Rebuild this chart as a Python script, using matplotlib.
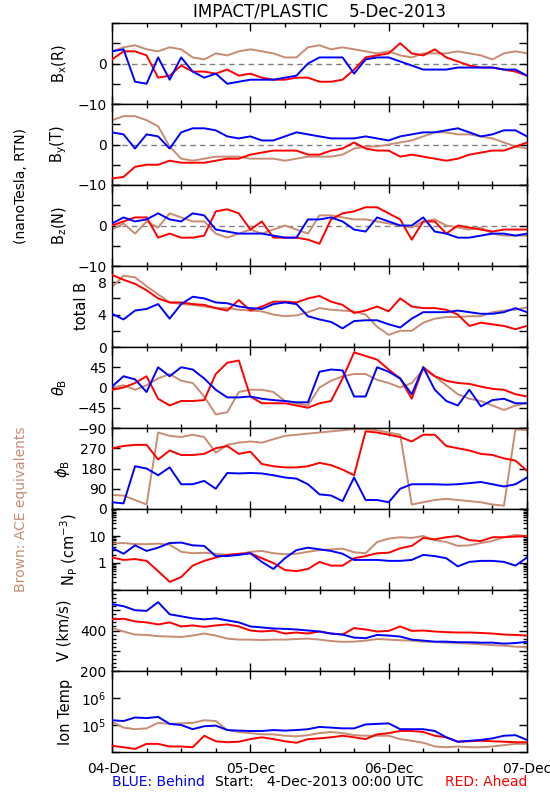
import numpy as np
import matplotlib
matplotlib.use('Agg')
import matplotlib.pyplot as plt
from matplotlib.ticker import FixedLocator, LogLocator, NullFormatter, MultipleLocator

# hours since 4-Dec-2013 00:00 UTC, one sample every 2 h
hours = np.arange(0, 73, 2)

# brown = ACE, red = STEREO Ahead, blue = STEREO Behind
bx_ace = [3, 4, 4.5, 3.5, 3, 4, 3.5, 1.5, 1, 2.5, 2, 3, 3.5, 3, 2.5, 1.5, 1.5, 4, 4.5, 3.5,
          4, 3.5, 3, 2.5, 3, 2, 1.5, 2.5, 2.5, 2.5, 3, 2.5, 2, 1, 2.5, 3, 2.5]
bx_a = [1, 3, 3, 2, -3.5, -3, -0.5, -2, -2, -2.5, -1.5, -3, -2.5, -3.5, -4, -4, -3.5, -3.5, -4.5, -4.5,
        -4, -1.5, 1.5, 2, 2.5, 5, 2.5, 2, 3.5, 1.5, 0.5, -0.5, -1, -1, -1.5, -2, -3]
bx_b = [3, 3.5, -4.5, -5, 1.5, -4, 1.5, -2, -3.5, -2.5, -5, -4.5, -4, -4, -4, -3.5, -3, 0, 1.5, 1.5,
        1.5, -2.5, 1, 1.5, 1.5, 0.5, -0.5, -1.5, -1.5, -1.5, -1, -1, -1, -1, -1.5, -1.5, -3]

by_ace = [6, 7, 7, 6, 4.5, -0.5, -3.5, -4, -3.5, -3, -3, -3, -3.5, -3.5, -3.5, -4, -3.5, -3, -3, -3,
          -2.5, -1, -0.5, -0.5, 0, 0.5, 1, 2, 3, 3, 2.5, 2.5, 2, 1.5, 0.5, -0.5, -1]
by_a = [-8.4, -8, -5.5, -5, -5, -4, -4.5, -4.5, -4.5, -4, -3.5, -3.5, -2.5, -2, -1.5, -1.5, -1.5, -2.5, -2.5, -1.5,
        -1, 0.5, -1, -1.5, -1.5, -3, -2.5, -3, -3.5, -4, -3.5, -2.5, -2, -1.5, -1.5, -0.5, 0.5]
by_b = [3, 2.5, -1, 2.5, 2, -1, 3, 4, 4, 3.5, 2, 1.5, 2, 1, 1, 2, 3, 2.5, 2, 1.5,
        1.5, 1.5, 2, 1.5, 1, 2, 2.5, 3, 3, 3.5, 4, 3, 2, 2.5, 3.5, 3.5, 2]

bz_ace = [-1, 0.5, -2, 1, -0.5, 3, 2, 1, 1, -2, -3, -2, -1, -2, -1, 0, -1, -2, 2.5, 2.5,
          2, 1.5, 1.5, 1, 0.5, 0, -0.5, 1, 1.5, 0, -0.5, -1, -0.5, -2, -2.5, -2.5, -2.5]
bz_a = [0, 1, 2, 2, -3, -2, -3, -3, -2.5, 3.5, 4, 3, -1, 1, -3, -3, -3, -3.5, -4.5, 1.5,
        3, 3.5, 4.5, 4.5, 3, 1.5, -3.5, 1, 1, -2, 0, -0.5, -1, -1.5, -1, -1, -1]
bz_b = [0.5, 2, 1, 1.5, 3, 1.5, 1, 3, 2.5, -1, -1.5, -2, -2, -2, -2.5, -3, -3, 1.5, 1.5, 2,
        1, -1, -1.5, 2, 1, 0, 0, 2, -1.5, -2, -3, -3, -2.5, -2, -2, -2.5, -2]

btot_ace = [7.4, 8.8, 8.6, 7.5, 6.5, 5.5, 5.3, 5.2, 5, 4.8, 4.8, 4.6, 4.5, 4.4, 4, 3.8, 3.9, 4.3, 4.8, 4.6,
            4.5, 4.4, 4, 2.5, 1.5, 2, 2, 3, 3.5, 3.7, 3.7, 3.8, 3.8, 4.3, 4.5, 4.6, 4.9]
btot_a = [8.9, 8.3, 7.8, 7.0, 6.0, 5.5, 5.5, 5.3, 5.2, 4.8, 4.5, 5.8, 4.5, 5, 5.6, 5.6, 5.5, 6.0, 6.3, 5.6,
          5.2, 4.2, 4.5, 5, 4.4, 6, 5, 4.8, 4.8, 4.6, 4, 2.6, 3.0, 2.8, 2.6, 2.2, 2.6]
btot_b = [4.1, 3.4, 4.5, 4.7, 5.3, 3.5, 5.3, 6.2, 6, 5.5, 5.4, 5, 4.8, 4.7, 5.3, 5.5, 5.3, 3.8, 3.4, 3.1,
          2.3, 3.2, 3.3, 3.3, 2.8, 2.4, 3.5, 4.3, 4.3, 4.3, 4.5, 4.3, 4.1, 4.1, 4.3, 4.8, 4.3]

theta_ace = [0, 5, -5, 5, 20, 30, 15, 10, -20, -60, -55, -10, -5, -5, -10, -30, -35, -40, 0, 15,
             25, 30, 30, 17, 10, 0, 10, 40, 25, 5, -15, -25, -30, -40, -50, -40, -35]
theta_a = [-5, 0, 10, 25, -25, -40, -30, -30, -28, 30, 55, 60, -20, -35, -35, -35, -40, -45, -35, -30,
           20, 78, 70, 62, 40, 20, -25, 45, 25, 15, 10, 8, 2, -3, -5, -15, -20]
theta_b = [2, 25, 18, -10, 45, 25, 45, 40, 20, -5, -22, -22, -20, -25, -28, -30, -33, -33, 35, 40,
           38, -20, -20, 45, 35, 20, -15, 45, -5, -30, -40, -5, -42, -28, -25, -35, -35]

phi_ace = [62, 60, 40, 20, 340, 325, 320, 330, 320, 250, 285, 295, 300, 295, 310, 325, 330, 335, 340, 345,
           350, 355, 355, 350, 340, 330, 20, 30, 40, 45, 40, 35, 30, 20, 15, 355, 350]
phi_a = [270, 280, 285, 285, 220, 260, 240, 240, 245, 270, 280, 245, 255, 200, 190, 185, 185, 190, 205, 195,
         175, 150, 345, 340, 330, 320, 300, 330, 330, 280, 270, 260, 245, 240, 225, 215, 170]
phi_b = [30, 25, 190, 180, 150, 185, 110, 110, 125, 90, 160, 158, 160, 158, 150, 140, 135, 110, 65, 60,
         35, 140, 40, 40, 30, 90, 110, 110, 110, 108, 110, 115, 120, 110, 100, 110, 140]

np_ace = [5.3, 5.5, 5, 5, 5.2, 4.8, 2.6, 2.3, 2.4, 2.2, 2, 2.1, 2.6, 2.8, 2.3, 2.1, 2.2, 2.6, 3, 3.2,
          3.4, 2.5, 2.3, 6, 8, 9, 8.5, 10, 7, 6, 4.3, 4.5, 5.5, 6.5, 9, 11, 10]
np_a = [1.6, 1.3, 1.4, 1.2, 0.5, 0.2, 0.3, 0.8, 1.2, 1.6, 2, 2.2, 2.3, 1.5, 1, 0.55, 0.5, 0.6, 1.1, 0.8,
        0.8, 1.5, 1.8, 2.3, 2.4, 3.5, 4.3, 8.5, 7.5, 9, 10, 7, 6.5, 9, 9, 9.5, 10]
np_b = [3.7, 2.2, 4.5, 2.8, 3.7, 5.5, 5.7, 4.5, 4.3, 1.8, 1.8, 2, 2.3, 1.1, 0.6, 1.5, 3, 3.7, 3.2, 2.8,
        2.2, 1.3, 1.3, 1.3, 1.2, 1.2, 1.3, 2, 1.8, 1.5, 0.75, 1.1, 1.2, 1.2, 1.1, 0.8, 1.6]

v_ace = [412, 395, 380, 378, 372, 370, 368, 375, 385, 375, 360, 355, 355, 353, 355, 355, 358, 360, 355, 348,
         344, 345, 350, 358, 355, 352, 350, 345, 343, 340, 338, 335, 332, 328, 325, 320, 318]
v_a = [455, 458, 445, 440, 430, 440, 420, 425, 418, 425, 430, 420, 400, 395, 400, 385, 390, 385, 395, 385,
       380, 412, 405, 395, 398, 420, 398, 400, 395, 392, 390, 390, 388, 385, 380, 378, 375]
v_b = [530, 520, 500, 497, 540, 480, 470, 460, 455, 460, 450, 440, 420, 415, 410, 408, 405, 400, 395, 385,
       380, 365, 362, 378, 375, 370, 355, 350, 345, 345, 342, 342, 340, 340, 335, 338, 344]

tp_ace = [1.3e5, 8e4, 7e4, 7.5e4, 1.2e5, 1.1e5, 1.15e5, 1.2e5, 1.5e5, 1.4e5, 6.5e4, 5.5e4, 5e4, 4.5e4, 4.5e4,
          4e4, 3.8e4, 4.2e4, 5e4, 5.5e4, 5e4, 4.2e4, 4e4, 4e4, 4e4, 3e4, 2.6e4, 2.2e4, 1.6e4, 1.5e4,
          1.6e4, 1.5e4, 1.5e4, 1.6e4, 1.8e4, 2e4, 2e4]
tp_a = [1.7e4, 1.5e4, 1.3e4, 2e4, 2e4, 1.6e4, 1.6e4, 1.5e4, 4e4, 2.5e4, 2.3e4, 2.4e4, 3e4, 3.5e4, 3e4,
        2.5e4, 2.2e4, 3e4, 3.2e4, 3.5e4, 4e4, 3.5e4, 3e4, 4.5e4, 5e4, 6e4, 6e4, 5.5e4, 4e4, 3.5e4,
        2.4e4, 2.5e4, 2.6e4, 2.5e4, 2.4e4, 2.3e4, 2.3e4]
tp_b = [1.5e5, 1.4e5, 1.9e5, 1.8e5, 2.0e5, 1.1e5, 1.0e5, 7e4, 9e4, 9.5e4, 6.5e4, 6.2e4, 6e4, 6e4, 6.5e4,
        6.2e4, 6.5e4, 7e4, 8.5e4, 8e4, 7.5e4, 7.5e4, 1.05e5, 1.1e5, 1.15e5, 7e4, 7e4, 7e4, 6e4, 3.5e4,
        2.4e4, 2.6e4, 2.8e4, 3.2e4, 4e4, 4.2e4, 2.8e4]

day_ticks = [0, 24, 48, 72]
day_labels = ['04-Dec', '05-Dec', '06-Dec', '07-Dec']

BROWN = '#c88c73'
RED = '#ff0000'
BLUE = '#0000ff'

plt.rcParams['font.family'] = 'DejaVu Sans'
plt.rcParams['font.size'] = 10
plt.rcParams['axes.linewidth'] = 1.0
plt.rcParams['xtick.direction'] = 'in'
plt.rcParams['ytick.direction'] = 'in'
plt.rcParams['xtick.top'] = True
plt.rcParams['ytick.right'] = True

# (ylabel, ace, ahead, behind, ylim, ticks, ticklabels, log, zero line)
panels = [
    (r'B$_\mathregular{x}$(R)', bx_ace, bx_a, bx_b, (-10, 10), [-10, -5, 0, 5, 10],
     ['\u221210', '', '0', '', ''], False, True),
    (r'B$_\mathregular{y}$(T)', by_ace, by_a, by_b, (-10, 10), [-10, -5, 0, 5, 10],
     ['\u221210', '', '0', '', ''], False, True),
    (r'B$_\mathregular{z}$(N)', bz_ace, bz_a, bz_b, (-10, 10), [-10, -5, 0, 5, 10],
     ['\u221210', '', '0', '', ''], False, True),
    ('total B', btot_ace, btot_a, btot_b, (0, 10), [0, 2, 4, 6, 8, 10],
     ['0', '', '4', '', '8', ''], False, False),
    (r'$\theta_\mathregular{B}$', theta_ace, theta_a, theta_b, (-90, 90), [-90, -45, 0, 45, 90],
     ['\u221290', '\u221245', '0', '45', ''], False, False),
    (r'$\phi_\mathregular{B}$', phi_ace, phi_a, phi_b, (0, 360), [0, 90, 180, 270, 360],
     ['0', '90', '180', '270', ''], False, False),
    (r'N$_\mathregular{P}$ (cm$^\mathregular{-3}$)', np_ace, np_a, np_b, (0.1, 100), [0.1, 1, 10, 100],
     ['', '1', '10', ''], True, False),
    ('V (km/s)', v_ace, v_a, v_b, (200, 600), [200, 300, 400, 500, 600],
     ['200', '', '400', '', ''], False, False),
    ('Ion Temp', tp_ace, tp_a, tp_b, (1e4, 1e7), [1e4, 1e5, 1e6, 1e7],
     ['', r'$\mathregular{10^5}$', r'$\mathregular{10^6}$', ''], True, False),
]

fig = plt.figure(figsize=(5.5, 8), dpi=100)
left, width = 112 / 550, 415 / 550
top, ph = 23 / 800, 81 / 800

for i, (lab, ace, ahd, beh, ylim, yt, ytl, logy, zero) in enumerate(panels):
    ax = fig.add_axes([left, 1 - top - (i + 1) * ph, width, ph])
    if logy:
        ax.set_yscale('log')
    if zero:
        ax.axhline(0, color='#808080', ls=(0, (4, 3)), lw=1.0, zorder=1)
    ax.plot(hours, ace, color=BROWN, lw=1.4, zorder=2)
    ax.plot(hours, ahd, color=RED, lw=1.4, zorder=3)
    ax.plot(hours, beh, color=BLUE, lw=1.4, zorder=4)
    ax.set_xlim(0, 72)
    ax.set_ylim(*ylim)
    ax.yaxis.set_major_locator(FixedLocator(yt))
    ax.set_yticklabels(ytl)
    if logy and ylim[0] < 1:
        ax.yaxis.set_minor_locator(LogLocator(base=10, subs=np.arange(2, 10)))
        ax.yaxis.set_minor_formatter(NullFormatter())
    elif logy:
        ax.yaxis.set_minor_locator(FixedLocator([]))
    elif ylim == (200, 600):
        ax.yaxis.set_minor_locator(MultipleLocator(20))
    ax.set_xticks(day_ticks)
    ax.xaxis.set_minor_locator(MultipleLocator(6))
    ax.tick_params(axis='both', which='major', length=6, width=1, labelsize=10, pad=4)
    ax.tick_params(axis='both', which='minor', length=3, width=1)
    if i == len(panels) - 1:
        ax.set_xticklabels(day_labels)
        ax.tick_params(axis='x', which='major', pad=7)
    else:
        ax.set_xticklabels([])
    ax.set_ylabel(lab, fontsize=10.5, labelpad=6)

fig.text(0.5809, 0.985, 'IMPACT/PLASTIC    5-Dec-2013', ha='center', va='center', fontsize=12)
fig.text(0.038, 0.7675, '(nanoTesla, RTN)', rotation=90, ha='center', va='center', fontsize=10)
fig.text(0.038, 0.364, 'Brown: ACE equivalents', rotation=90, ha='center', va='center',
         fontsize=10, color=BROWN)
fig.text(left, 0.0225, 'BLUE: Behind', color=BLUE, ha='left', va='center', fontsize=10)
fig.text(0.58, 0.0225, 'Start:   4-Dec-2013 00:00 UTC', color='black', ha='center', va='center',
         fontsize=10)
fig.text(left + width, 0.0225, 'RED: Ahead', color=RED, ha='right', va='center', fontsize=10)

fig.savefig('out.png', dpi=100)
